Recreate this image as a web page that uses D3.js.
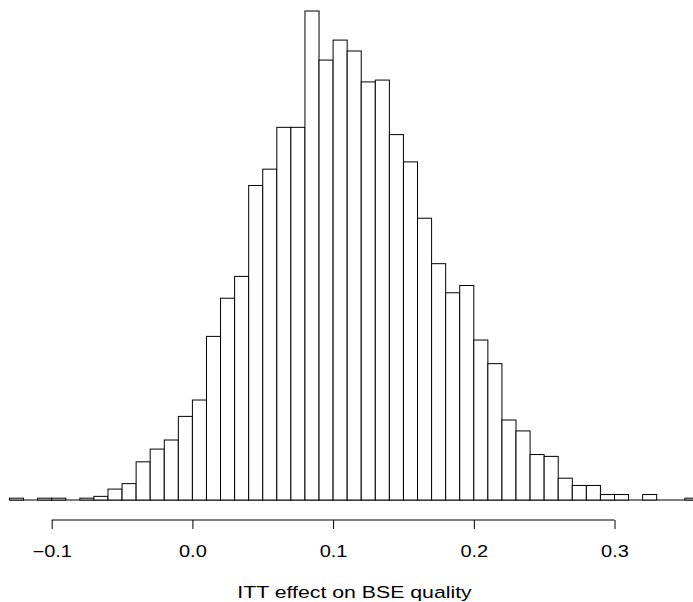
<!DOCTYPE html>
<html>
<head>
<meta charset="utf-8">
<script src="https://cdn.jsdelivr.net/npm/d3@7"></script>
<style>
  html, body { margin: 0; padding: 0; background: #fff; }
  svg { display: block; }
</style>
</head>
<body>
<div id="chart"></div>
<script>
// Bin left edges (width 0.01) and counts
const binStart = -0.13;
const binWidth = 0.01;
const counts = [
  1, 0, 1, 1, 0, 1, 2, 6, 9, 21,
  28, 33, 46, 55, 90, 111, 123, 173, 182, 205,
  205, 269, 242, 253, 247, 230, 231, 201, 186, 155,
  130, 114, 118, 88, 75, 44, 38, 25, 24, 12,
  8, 8, 3, 3, 0, 3, 0, 0, 1
];
const tickValues = [-0.1, 0.0, 0.1, 0.2, 0.3];
const tickLabels = ["\u22120.1", "0.0", "0.1", "0.2", "0.3"];
const xTitle = "ITT effect on BSE quality";

const bins = counts.map((c, i) => ({
  x0: +(binStart + i * binWidth).toFixed(2),
  x1: +(binStart + (i + 1) * binWidth).toFixed(2),
  count: c
}));

const W = 693, H = 602;
const FONT = "'Liberation Sans', Arial, Helvetica, sans-serif";
const svg = d3.select("#chart").append("svg")
  .attr("width", W).attr("height", H)
  .style("font-family", FONT);

const x = d3.scaleLinear().domain([-0.1, 0.3]).range([51.7, 614.5]);
const y = d3.scaleLinear().domain([0, d3.max(counts)]).range([500, 11]);

// baseline spanning all bins (zero-height bins are drawn as lines in R)
svg.append("line")
  .attr("x1", x(bins[0].x0)).attr("x2", x(bins[bins.length - 1].x1))
  .attr("y1", y(0)).attr("y2", y(0))
  .attr("stroke", "#000").attr("stroke-width", 1);

svg.append("g").selectAll("rect")
  .data(bins.filter(d => d.count > 0))
  .join("rect")
  .attr("x", d => x(d.x0))
  .attr("width", d => x(d.x1) - x(d.x0))
  .attr("y", d => y(d.count))
  .attr("height", d => y(0) - y(d.count))
  .attr("fill", "#fff")
  .attr("stroke", "#000")
  .attr("stroke-width", 1);

// x axis (R style: line from first to last tick, ticks downwards)
const axisY = 520;
const axis = d3.axisBottom(x)
  .tickValues(tickValues)
  .tickFormat((d, i) => tickLabels[i])
  .tickSize(9)
  .tickSizeOuter(0);

const gAxis = svg.append("g")
  .attr("transform", `translate(0,${axisY})`)
  .call(axis);
gAxis.select(".domain").remove();
gAxis.append("line")
  .attr("x1", x(tickValues[0])).attr("x2", x(tickValues[tickValues.length - 1]))
  .attr("y1", 0).attr("y2", 0)
  .attr("stroke", "#000").attr("stroke-width", 1);
gAxis.selectAll(".tick line").attr("stroke", "#000");
gAxis.selectAll(".tick text")
  .attr("fill", "#000")
  .attr("y", 37.3)
  .attr("dy", 0)
  .attr("transform", "scale(1.25,1)")
  .style("font-size", "16px")
  .style("font-family", FONT);

svg.append("g")
  .attr("transform", "translate(354.5,598)")
  .append("text")
  .attr("text-anchor", "middle")
  .attr("transform", "scale(1.29,1)")
  .attr("fill", "#000")
  .style("font-size", "16.5px")
  .text(xTitle);
</script>
</body>
</html>
